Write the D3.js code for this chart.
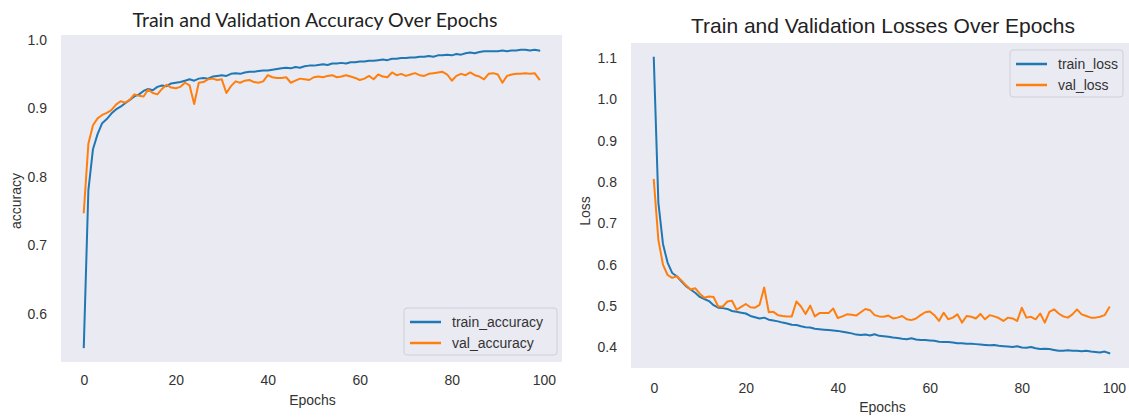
<!DOCTYPE html>
<html><head><meta charset="utf-8">
<script src="https://cdn.jsdelivr.net/npm/d3@7"></script>
<style>body{margin:0;background:#fff;overflow:hidden}</style></head>
<body>
<svg id="chart" width="1129" height="418"></svg>
<script>
// ---------------- data ----------------
const trainAcc = [0.551,0.780,0.840,0.862,0.878,0.884,0.892,0.898,0.902,0.907,
0.912,0.917,0.920,0.925,0.928,0.926,0.931,0.933,0.932,0.936,
0.937,0.938,0.940,0.942,0.940,0.943,0.944,0.943,0.946,0.947,
0.948,0.947,0.950,0.951,0.950,0.952,0.953,0.953,0.954,0.955,
0.955,0.956,0.957,0.958,0.959,0.958,0.960,0.959,0.961,0.962,
0.962,0.963,0.964,0.963,0.965,0.965,0.966,0.965,0.967,0.967,
0.968,0.968,0.969,0.969,0.970,0.971,0.970,0.972,0.972,0.973,
0.973,0.974,0.974,0.975,0.975,0.976,0.975,0.977,0.977,0.978,
0.977,0.979,0.978,0.980,0.981,0.980,0.982,0.983,0.983,0.983,
0.983,0.984,0.983,0.984,0.984,0.985,0.985,0.984,0.985,0.984];
const valAcc = [0.748,0.848,0.875,0.885,0.890,0.893,0.897,0.905,0.910,0.908,
0.912,0.920,0.918,0.917,0.927,0.922,0.920,0.928,0.934,0.930,
0.929,0.931,0.937,0.933,0.906,0.937,0.938,0.942,0.943,0.941,
0.942,0.922,0.932,0.939,0.937,0.940,0.941,0.938,0.937,0.939,
0.948,0.945,0.944,0.944,0.945,0.937,0.940,0.943,0.942,0.941,
0.945,0.946,0.945,0.947,0.948,0.945,0.946,0.948,0.946,0.944,
0.941,0.943,0.947,0.942,0.949,0.946,0.945,0.952,0.948,0.950,
0.947,0.949,0.951,0.948,0.947,0.950,0.951,0.952,0.953,0.949,
0.940,0.947,0.950,0.948,0.952,0.948,0.946,0.942,0.950,0.951,
0.949,0.937,0.947,0.949,0.950,0.950,0.951,0.950,0.951,0.942];
const trainLoss = [1.100,0.750,0.650,0.605,0.580,0.572,0.560,0.548,0.540,0.532,
0.522,0.517,0.512,0.502,0.496,0.495,0.493,0.488,0.486,0.484,
0.482,0.476,0.473,0.470,0.472,0.467,0.465,0.463,0.460,0.458,
0.455,0.454,0.451,0.449,0.448,0.445,0.444,0.443,0.442,0.441,
0.440,0.438,0.436,0.434,0.431,0.430,0.431,0.429,0.432,0.428,
0.427,0.426,0.424,0.423,0.421,0.420,0.422,0.419,0.418,0.418,
0.417,0.416,0.414,0.413,0.413,0.412,0.410,0.410,0.409,0.409,
0.408,0.407,0.406,0.405,0.406,0.404,0.403,0.402,0.401,0.403,
0.400,0.399,0.401,0.398,0.396,0.397,0.396,0.394,0.392,0.392,
0.393,0.392,0.392,0.391,0.392,0.390,0.389,0.388,0.390,0.386];
const valLoss = [0.805,0.660,0.600,0.575,0.568,0.572,0.562,0.550,0.540,0.543,
0.530,0.520,0.523,0.522,0.499,0.499,0.511,0.513,0.491,0.498,
0.505,0.497,0.496,0.503,0.545,0.485,0.486,0.478,0.476,0.475,
0.475,0.511,0.499,0.481,0.501,0.475,0.483,0.483,0.483,0.494,
0.471,0.475,0.480,0.479,0.477,0.485,0.493,0.490,0.478,0.475,
0.474,0.477,0.470,0.472,0.476,0.468,0.466,0.470,0.478,0.485,
0.487,0.478,0.464,0.484,0.468,0.472,0.480,0.460,0.476,0.474,
0.470,0.481,0.468,0.478,0.475,0.471,0.464,0.472,0.470,0.464,
0.496,0.472,0.474,0.468,0.482,0.460,0.486,0.492,0.482,0.475,
0.472,0.480,0.492,0.480,0.476,0.472,0.472,0.474,0.478,0.497];
const epochs = trainAcc.map((_, i) => i);
const xTicks = [0, 20, 40, 60, 80, 100];
const accTicks = [0.6, 0.7, 0.8, 0.9, 1.0];
const lossTicks = [0.4, 0.5, 0.6, 0.7, 0.8, 0.9, 1.0, 1.1];
const accNames = ["train_accuracy", "val_accuracy"];
const lossNames = ["train_loss", "val_loss"];
const titles = ["Train and Validation Accuracy Over Epochs", "Train and Validation Losses Over Epochs"];
const yLabels = ["accuracy", "Loss"];
const xLabel = "Epochs";

// ---------------- drawing ----------------
const BLUE = "#1f77b4", ORANGE = "#ff7f0e", BG = "#eaeaf2", TXT = "#333";
const FONT = "'Liberation Sans', Arial, sans-serif";
const svg = d3.select("#chart");

function padded(vals) {
  const [a, b] = d3.extent(vals);
  const r = b - a;
  return [a - 0.05 * r, b + 0.05 * r];
}

function panel(cfg, idx) {
  const g = svg.append("g");
  const x = d3.scaleLinear().domain(padded(epochs)).range([cfg.x0, cfg.x1]);
  const y = d3.scaleLinear().domain(padded(cfg.series[0].concat(cfg.series[1]))).range([cfg.y1, cfg.y0]);

  g.append("rect").attr("x", cfg.x0).attr("y", cfg.y0)
    .attr("width", cfg.x1 - cfg.x0).attr("height", cfg.y1 - cfg.y0).attr("fill", BG);

  const clipId = "clip" + idx;
  g.append("clipPath").attr("id", clipId).append("rect")
    .attr("x", cfg.x0).attr("y", cfg.y0).attr("width", cfg.x1 - cfg.x0).attr("height", cfg.y1 - cfg.y0);

  const line = d3.line().x((d, i) => x(epochs[i])).y(d => y(d));
  const colors = [BLUE, ORANGE];
  cfg.series.forEach((s, k) => {
    g.append("path").datum(s).attr("d", line).attr("fill", "none")
      .attr("stroke", colors[k]).attr("stroke-width", 2).attr("stroke-linejoin", "round")
      .attr("stroke-linecap", "square").attr("clip-path", `url(#${clipId})`);
  });

  const xa = g.append("g").attr("transform", `translate(0,${cfg.y1})`)
    .call(d3.axisBottom(x).tickValues(xTicks).tickSize(0).tickPadding(cfg.xPad).tickFormat(d3.format("d")));
  const ya = g.append("g").attr("transform", `translate(${cfg.x0},0)`)
    .call(d3.axisLeft(y).tickValues(cfg.yTicks).tickSize(0).tickPadding(14).tickFormat(d3.format(".1f")));
  [xa, ya].forEach(a => {
    a.select(".domain").remove();
    a.selectAll("text").attr("font-family", FONT).attr("font-size", 14).attr("fill", TXT);
  });

  g.append("text").attr("x", (cfg.x0 + cfg.x1) / 2 + 1).attr("y", cfg.xlabY)
    .attr("text-anchor", "middle").attr("font-family", FONT).attr("font-size", 14).attr("fill", TXT).text(xLabel);
  g.append("text").attr("transform", `translate(${cfg.ylabX},${cfg.ylabY}) rotate(-90)`)
    .attr("text-anchor", "middle").attr("font-family", FONT).attr("font-size", 14).attr("fill", TXT).text(cfg.ylabel);

  g.append("text").attr("x", cfg.titleX).attr("y", cfg.titleY).attr("text-anchor", "middle")
    .attr("font-family", cfg.titleFont).attr("font-size", cfg.titleSize).attr("fill", "#222")
    .attr("textLength", cfg.titleW).attr("lengthAdjust", "spacingAndGlyphs").text(cfg.title);

  // legend
  const L = cfg.legend;
  g.append("rect").attr("x", L.x).attr("y", L.y).attr("width", L.w).attr("height", L.h)
    .attr("rx", 3).attr("fill", BG).attr("fill-opacity", 0.8).attr("stroke", "#cfcfd6").attr("stroke-width", 1);
  cfg.names.forEach((n, k) => {
    const cy = L.y + L.row0 + k * 21;
    g.append("line").attr("x1", L.x + 6).attr("x2", L.x + 37).attr("y1", cy).attr("y2", cy)
      .attr("stroke", colors[k]).attr("stroke-width", 2.5);
    g.append("text").attr("x", L.x + 48).attr("y", cy + 5).attr("font-family", FONT)
      .attr("font-size", 14).attr("fill", TXT).text(n);
  });
}

panel({
  x0: 61, x1: 562, y0: 35, y1: 362, xPad: 13,
  series: [trainAcc, valAcc], yTicks: accTicks, ylabel: yLabels[0], names: accNames,
  xlabY: 405, ylabX: 21, ylabY: 201,
  title: titles[0], titleX: 315, titleY: 27, titleSize: 20, titleW: 365,
  titleFont: "Lato, 'Open Sans', sans-serif",
  legend: { x: 404, y: 308, w: 153, h: 47, row0: 14 }
}, 0);

panel({
  x0: 631, x1: 1132, y0: 43, y1: 368, xPad: 15,
  series: [trainLoss, valLoss], yTicks: lossTicks, ylabel: yLabels[1], names: lossNames,
  xlabY: 412, ylabX: 590, ylabY: 211,
  title: titles[1], titleX: 883, titleY: 33, titleSize: 21, titleW: 384,
  titleFont: FONT,
  legend: { x: 1010, y: 50, w: 113, h: 47, row0: 14 }
}, 1);
</script>
</body></html>
